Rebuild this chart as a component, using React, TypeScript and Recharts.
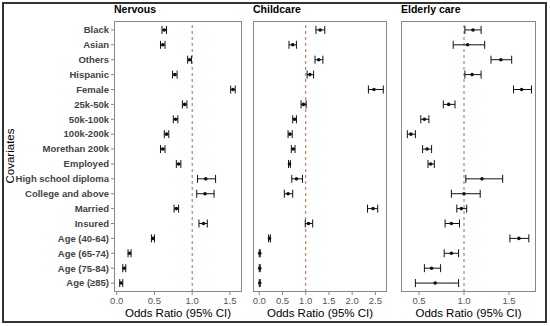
import { ScatterChart, Scatter, XAxis, YAxis, ErrorBar, ReferenceLine } from 'recharts';

const covariates = [
  'Black', 'Asian', 'Others', 'Hispanic', 'Female', '25k-50k', '50k-100k', '100k-200k',
  'Morethan 200k', 'Employed', 'High school diploma', 'College and above', 'Married',
  'Insured', 'Age (40-64)', 'Age (65-74)', 'Age (75-84)', 'Age (≥85)',
];

const nervousOR = [0.63, 0.61, 0.965, 0.77, 1.54, 0.9, 0.78, 0.66, 0.61, 0.82, 1.18, 1.17, 0.79, 1.15, 0.48, 0.17, 0.1, 0.06];
const nervousLow = [0.6, 0.58, 0.94, 0.74, 1.51, 0.87, 0.75, 0.63, 0.58, 0.79, 1.07, 1.06, 0.76, 1.09, 0.46, 0.15, 0.08, 0.04];
const nervousHigh = [0.66, 0.64, 0.99, 0.8, 1.57, 0.93, 0.81, 0.69, 0.64, 0.85, 1.31, 1.29, 0.82, 1.2, 0.5, 0.19, 0.12, 0.08];

const childOR = [1.31, 0.72, 1.28, 1.09, 2.47, 0.95, 0.76, 0.66, 0.73, 0.65, 0.8, 0.62, 2.45, 1.06, 0.22, 0.01, 0.01, 0.01];
const childLow = [1.22, 0.64, 1.2, 1.03, 2.35, 0.9, 0.72, 0.62, 0.69, 0.63, 0.7, 0.54, 2.33, 0.99, 0.2, 0.0, 0.0, 0.0];
const childHigh = [1.41, 0.8, 1.37, 1.17, 2.67, 1.01, 0.8, 0.71, 0.77, 0.67, 0.93, 0.72, 2.55, 1.15, 0.24, 0.02, 0.02, 0.02];

const elderOR = [1.1, 1.04, 1.41, 1.09, 1.64, 0.83, 0.56, 0.41, 0.59, 0.63, 1.2, 1.0, 0.97, 0.86, 1.61, 0.86, 0.64, 0.68];
const elderLow = [1.01, 0.88, 1.3, 1.01, 1.55, 0.77, 0.52, 0.37, 0.54, 0.6, 1.02, 0.86, 0.92, 0.79, 1.51, 0.78, 0.56, 0.46];
const elderHigh = [1.19, 1.23, 1.53, 1.19, 1.75, 0.9, 0.61, 0.46, 0.64, 0.67, 1.43, 1.18, 1.03, 0.95, 1.72, 0.94, 0.74, 0.94];

const build = (or: number[], lo: number[], hi: number[]) =>
  or.map((v, i) => ({ y: i, or: v, err: [v - lo[i], hi[i] - v] }));

const rowTicks = covariates.map((_, i) => i);
const font = '"Liberation Sans", Arial, sans-serif';

const Dot = (p: any) => <circle cx={p.cx} cy={p.cy} r={1.8} fill="#111" />;

// plain text tick so long labels don't wrap
const RowTick = (p: any) => (
  <text x={p.x} y={p.y} dy="0.35em" textAnchor="end" fontSize={9.5} fontWeight="bold" fill="#444" fontFamily={font}>
    {covariates[p.payload.value]}
  </text>
);

type PanelProps = {
  left: number; width: number; data: any[]; domain: [number, number]; ticks: number[];
  showY?: boolean; yWidth?: number;
};

const Panel = ({ left, width, data, domain, ticks, showY, yWidth = 0 }: PanelProps) => (
  <div style={{ position: 'absolute', left, top: 0 }}>
    <ScatterChart width={width} height={326} margin={{ top: 21, right: 3, bottom: 14, left: showY ? 0 : 3 }}>
      <XAxis type="number" dataKey="or" domain={domain} ticks={ticks} allowDataOverflow
        height={20} axisLine={false} tickSize={3} tickLine={{ stroke: '#888' }}
        tickFormatter={(v: number) => v.toFixed(1)}
        tick={{ fontSize: 9.5, fill: '#555', fontFamily: font }} />
      <YAxis type="number" dataKey="y" domain={[-0.6, 17.6]} reversed ticks={rowTicks} interval={0}
        hide={!showY} width={yWidth} axisLine={false} tickSize={3} tickLine={{ stroke: '#888' }}
        tick={RowTick} />
      <ReferenceLine x={1} stroke="#c0653f" strokeDasharray="3 3" strokeWidth={1} />
      <Scatter data={data} shape={Dot} isAnimationActive={false}>
        <ErrorBar dataKey="err" direction="x" width={4} stroke="#111" strokeWidth={1} />
      </Scatter>
    </ScatterChart>
  </div>
);

const box = (left: number, right: number) => (
  <div style={{ position: 'absolute', left, top: 21, width: right - left, height: 271, border: '1px solid #888', boxSizing: 'border-box', pointerEvents: 'none' }} />
);

const title = (text: string, left: number) => (
  <div style={{ position: 'absolute', left, top: 3, fontSize: 10.5, fontWeight: 'bold', fontFamily: font, color: '#000' }}>{text}</div>
);

const xLabel = (left: number, right: number) => (
  <div style={{ position: 'absolute', left, width: right - left, top: 307, textAlign: 'center', fontSize: 11.5, fontFamily: font, color: '#000', whiteSpace: 'nowrap' }}>Odds Ratio (95% CI)</div>
);

export default function App() {
  return (
    <div style={{ position: 'absolute', left: 0, top: 0, width: 550, height: 326, background: '#fff', overflow: 'hidden' }}>
      <Panel left={0} width={245} data={build(nervousOR, nervousLow, nervousHigh)} domain={[-0.036, 1.66]} ticks={[0, 0.5, 1, 1.5]} showY yWidth={114} />
      <Panel left={250} width={140} data={build(childOR, childLow, childHigh)} domain={[-0.135, 2.75]} ticks={[0, 0.5, 1, 1.5, 2, 2.5]} />
      <Panel left={398} width={141} data={build(elderOR, elderLow, elderHigh)} domain={[0.3, 1.8]} ticks={[0.5, 1, 1.5]} />
      {box(114, 242)}
      {box(253, 387)}
      {box(401, 536)}
      {title('Nervous', 114)}
      {title('Childcare', 253)}
      {title('Elderly care', 401)}
      {xLabel(114, 242)}
      {xLabel(253, 387)}
      {xLabel(401, 536)}
      <div style={{ position: 'absolute', left: 10, top: 156, transform: 'translate(-50%, -50%) rotate(-90deg)', fontSize: 11.5, fontFamily: font, color: '#000' }}>Covariates</div>
      <div style={{ position: 'absolute', left: 2, top: 2, width: 545, height: 321, border: '2px solid #333', boxSizing: 'border-box', pointerEvents: 'none' }} />
    </div>
  );
}
